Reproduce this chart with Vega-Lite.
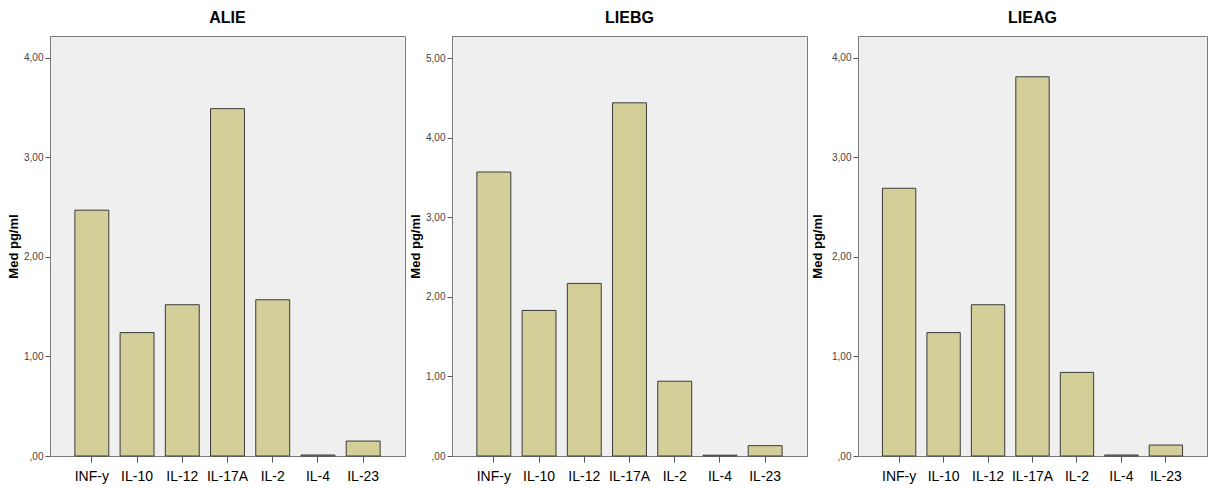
{
  "$schema": "https://vega.github.io/schema/vega-lite/v6.json",
  "background": "white",
  "padding": {"left": 7, "top": 9, "right": 2, "bottom": 2},
  "spacing": 3,
  "datasets": {
    "d": [
      {"panel": "ALIE", "cytokine": "INF-y", "value": 2.47},
      {"panel": "ALIE", "cytokine": "IL-10", "value": 1.24},
      {"panel": "ALIE", "cytokine": "IL-12", "value": 1.52},
      {"panel": "ALIE", "cytokine": "IL-17A", "value": 3.49},
      {"panel": "ALIE", "cytokine": "IL-2", "value": 1.57},
      {"panel": "ALIE", "cytokine": "IL-4", "value": 0.01},
      {"panel": "ALIE", "cytokine": "IL-23", "value": 0.15},
      {"panel": "LIEBG", "cytokine": "INF-y", "value": 3.57},
      {"panel": "LIEBG", "cytokine": "IL-10", "value": 1.83},
      {"panel": "LIEBG", "cytokine": "IL-12", "value": 2.17},
      {"panel": "LIEBG", "cytokine": "IL-17A", "value": 4.44},
      {"panel": "LIEBG", "cytokine": "IL-2", "value": 0.94},
      {"panel": "LIEBG", "cytokine": "IL-4", "value": 0.01},
      {"panel": "LIEBG", "cytokine": "IL-23", "value": 0.13},
      {"panel": "LIEAG", "cytokine": "INF-y", "value": 2.69},
      {"panel": "LIEAG", "cytokine": "IL-10", "value": 1.24},
      {"panel": "LIEAG", "cytokine": "IL-12", "value": 1.52},
      {"panel": "LIEAG", "cytokine": "IL-17A", "value": 3.81},
      {"panel": "LIEAG", "cytokine": "IL-2", "value": 0.84},
      {"panel": "LIEAG", "cytokine": "IL-4", "value": 0.01},
      {"panel": "LIEAG", "cytokine": "IL-23", "value": 0.11}
    ]
  },
  "config": {
    "view": {"fill": "#efefef", "stroke": "#7a7a7a", "strokeWidth": 1},
    "title": {"font": "Liberation Sans", "fontSize": 16, "fontWeight": "bold", "color": "#000", "offset": 10},
    "axis": {"domainColor": "#7a7a7a", "tickColor": "#555", "grid": false},
    "axisY": {
      "labelFont": "Liberation Sans", "labelFontSize": 10, "labelColor": "#444",
      "tickSize": 5, "labelPadding": 2,
      "titleFont": "Liberation Sans", "titleFontSize": 13, "titleFontWeight": "bold", "titleColor": "#000", "titlePadding": 3
    },
    "axisX": {
      "labelFont": "Liberation Sans", "labelFontSize": 14, "labelColor": "#000",
      "tickSize": 6, "labelPadding": 7, "labelAngle": 0
    },
    "bar": {"fill": "#d3cf98", "stroke": "#3a3a3a", "strokeWidth": 1}
  },
  "hconcat": [
    {
      "title": "ALIE",
      "width": 355, "height": 420,
      "data": {"name": "d"},
      "transform": [{"filter": "datum.panel == 'ALIE'"}],
      "mark": {"type": "bar"},
      "encoding": {
        "x": {"field": "cytokine", "type": "nominal", "sort": null, "title": null,
              "scale": {"paddingInner": 0.25, "paddingOuter": 0.55}},
        "y": {"field": "value", "type": "quantitative", "title": "Med pg/ml",
              "scale": {"domain": [0, 4.22], "nice": false},
              "axis": {"values": [0, 1, 2, 3, 4], "labelExpr": "datum.value == 0 ? ',00' : replace(format(datum.value, '.2f'), '.', ',')"}}
      }
    },
    {
      "title": "LIEBG",
      "width": 355, "height": 420,
      "data": {"name": "d"},
      "transform": [{"filter": "datum.panel == 'LIEBG'"}],
      "mark": {"type": "bar"},
      "encoding": {
        "x": {"field": "cytokine", "type": "nominal", "sort": null, "title": null,
              "scale": {"paddingInner": 0.25, "paddingOuter": 0.55}},
        "y": {"field": "value", "type": "quantitative", "title": "Med pg/ml",
              "scale": {"domain": [0, 5.28], "nice": false},
              "axis": {"values": [0, 1, 2, 3, 4, 5], "labelExpr": "datum.value == 0 ? ',00' : replace(format(datum.value, '.2f'), '.', ',')"}}
      }
    },
    {
      "title": "LIEAG",
      "width": 349, "height": 420,
      "data": {"name": "d"},
      "transform": [{"filter": "datum.panel == 'LIEAG'"}],
      "mark": {"type": "bar"},
      "encoding": {
        "x": {"field": "cytokine", "type": "nominal", "sort": null, "title": null,
              "scale": {"paddingInner": 0.25, "paddingOuter": 0.55}},
        "y": {"field": "value", "type": "quantitative", "title": "Med pg/ml",
              "scale": {"domain": [0, 4.22], "nice": false},
              "axis": {"titlePadding": 7, "values": [0, 1, 2, 3, 4], "labelExpr": "datum.value == 0 ? ',00' : replace(format(datum.value, '.2f'), '.', ',')"}}
      }
    }
  ]
}
